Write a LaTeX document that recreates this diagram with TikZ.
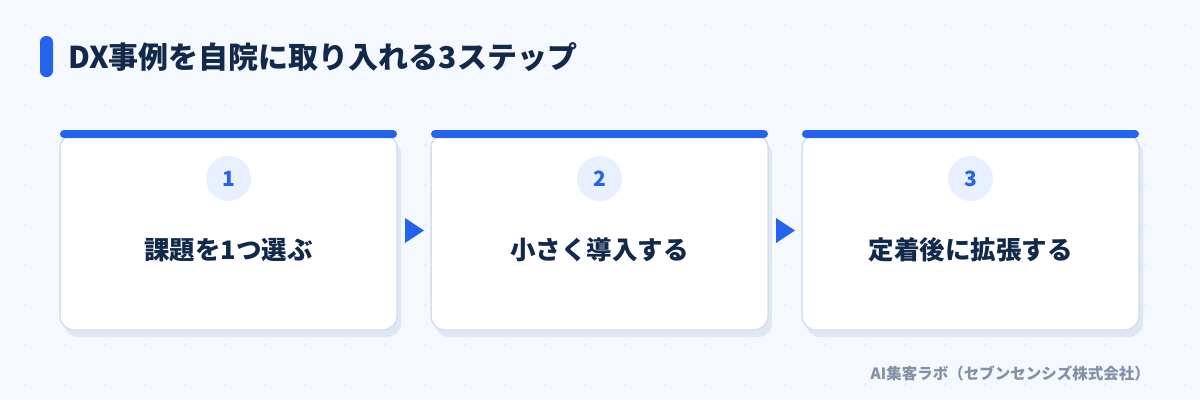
\documentclass[tikz,border=0pt]{standalone}
\usepackage{fontspec}
\setmainfont{Noto Sans CJK JP}
\definecolor{bg}{HTML}{F5F8FC}
\definecolor{gridc}{HTML}{E1E8F1}
\definecolor{accent}{HTML}{2563EB}
\definecolor{navy}{HTML}{13294B}
\definecolor{cardborder}{HTML}{D3DFEE}
\definecolor{cardshadow}{HTML}{DFE7F2}
\definecolor{circfill}{HTML}{E8F0FD}
\definecolor{footc}{HTML}{8391A8}
\tikzset{
  gridmark/.style={draw=gridc, line width=1pt},
  cardshadowbox/.style={fill=cardshadow, rounded corners=14pt},
  cardbox/.style={fill=white, draw=cardborder, line width=1.5pt, rounded corners=14pt},
  topbar/.style={fill=accent, rounded corners=4pt},
  numcirc/.style={circle, fill=circfill, minimum size=45pt, inner sep=0pt, text=accent, font=\fontsize{21}{21}\selectfont\bfseries},
  steptext/.style={text=navy, font=\fontsize{25.5}{26}\selectfont\bfseries, inner sep=0pt},
  flowarrow/.style={fill=accent},
}
\begin{document}
\begin{tikzpicture}[x=1pt,y=-1pt]
\useasboundingbox[fill=bg] (0,0) rectangle (1200,400);
% grid marks
\foreach \gx in {25,65,...,1185}{
  \foreach \gy in {25,65,...,385}{
    \draw[gridmark] (\gx-2.2,\gy) -- (\gx+2.2,\gy) (\gx,\gy-2.2) -- (\gx,\gy+2.2);
  }
}
% title
\fill[accent, rounded corners=6pt] (40,36) rectangle (53,77);
\node[anchor=west, text=navy, font=\fontsize{30}{30}\selectfont\bfseries, inner sep=0pt] (title) at (68,57) {DX事例を自院に取り入れる3ステップ};
% cards
\foreach \i/\xl/\txt in {1/60/課題を1つ選ぶ, 2/431/小さく導入する, 3/802/定着後に拡張する}{
  \fill[cardshadowbox] (\xl+4,140) rectangle (\xl+341,337);
  \draw[cardbox] (\xl,134) rectangle (\xl+337,330);
  \fill[topbar] (\xl,130) rectangle (\xl+337,138);
  \node[numcirc] (num\i) at (\xl+168.5,178.5) {\i};
  \node[steptext] (step\i) at (\xl+168.5,250) {\txt};
}
% arrows
\fill[flowarrow] (405,218) -- (405,243) -- (424,230.5) -- cycle;
\fill[flowarrow] (776,218) -- (776,243) -- (795,230.5) -- cycle;
% footer
\node[anchor=east, text=footc, font=\fontsize{15.5}{16}\selectfont\bfseries, inner sep=0pt] (footer) at (1150,373) {AI集客ラボ（セブンセンシズ株式会社）};
\end{tikzpicture}
\end{document}
